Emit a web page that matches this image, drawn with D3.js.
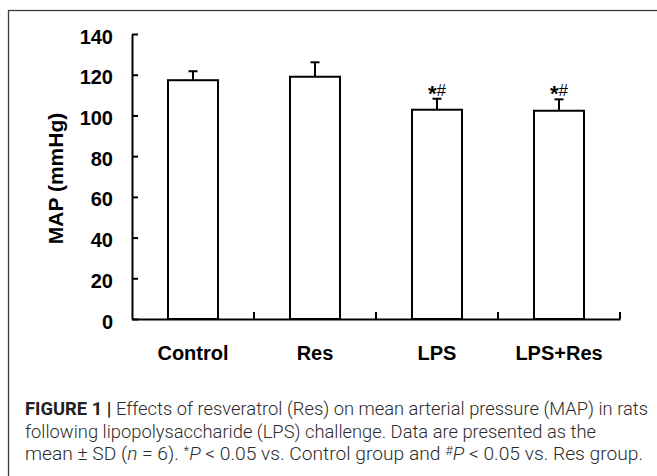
<!DOCTYPE html>
<html>
<head>
<meta charset="utf-8">
<script src="https://cdn.jsdelivr.net/npm/d3@7"></script>
<style>
  body { margin: 0; background: #fff; }
  svg { display: block; }
</style>
</head>
<body>
<div id="chart-area"></div>
<script>
// data
var groups = ["Control", "Res", "LPS", "LPS+Res"]
var meanMAP = [117.3, 119.0, 102.8, 102.3]
var sdMAP = [4.4, 7.1, 5.4, 5.6]
var sigMarks = ["", "", "*#", "*#"]
var yTicks = [0, 20, 40, 60, 80, 100, 120, 140]

var W = 657, H = 476
var plot = { left: 132, right: 620, top: 34, bottom: 319 }

var svg = d3.select("#chart-area").append("svg")
    .attr("width", W)
    .attr("height", H)

// outer frame (runs off the right and bottom edges)
svg.append("rect")
    .attr("x", 8.5)
    .attr("y", 10.5)
    .attr("width", 700)
    .attr("height", 520)
    .style("fill", "none")
    .style("stroke", "#3a3a3a")
    .style("stroke-width", 1.3)

var xScale = d3.scaleBand()
    .domain(groups)
    .range([plot.left, plot.right])
    .paddingInner(0.59)
    .paddingOuter(0.295)

var yScale = d3.scaleLinear()
    .domain([0, 140])
    .range([plot.bottom, plot.top])

var g = svg.append("g")

// Y axis
var yAxisGroup = g.append("g")
    .attr("transform", "translate(" + plot.left + ",0)")
    .call(d3.axisLeft(yScale).tickValues(yTicks).tickSize(-6).tickPadding(19).tickSizeOuter(0))
yAxisGroup.selectAll("path").style("stroke", "#000").style("stroke-width", 2)
yAxisGroup.selectAll("line").style("stroke", "#000").style("stroke-width", 2)
yAxisGroup.selectAll("text")
    .attr("dy", "0.45em")
    .style("font-family", "Arial, 'Liberation Sans', sans-serif")
    .style("font-weight", "bold")
    .style("font-size", "20px")
    .style("fill", "#000")

// bars
g.selectAll(".bar").data(groups).enter()
    .append("rect")
    .attr("class", "bar")
    .attr("x", function(d) { return xScale(d) })
    .attr("y", function(d, i) { return yScale(meanMAP[i]) })
    .attr("width", xScale.bandwidth())
    .attr("height", function(d, i) { return yScale(0) - yScale(meanMAP[i]) })
    .style("fill", "#fff")
    .style("stroke", "#000")
    .style("stroke-width", 2)

// upper error bars
var cx = function(d) { return xScale(d) + xScale.bandwidth() / 2 }
g.selectAll(".err").data(groups).enter()
    .append("line")
    .attr("class", "err")
    .attr("x1", cx).attr("x2", cx)
    .attr("y1", function(d, i) { return yScale(meanMAP[i]) })
    .attr("y2", function(d, i) { return yScale(meanMAP[i] + sdMAP[i]) })
    .style("stroke", "#000")
    .style("stroke-width", 2)
g.selectAll(".cap").data(groups).enter()
    .append("line")
    .attr("class", "cap")
    .attr("x1", function(d) { return cx(d) - 4.5 })
    .attr("x2", function(d) { return cx(d) + 4.5 })
    .attr("y1", function(d, i) { return yScale(meanMAP[i] + sdMAP[i]) })
    .attr("y2", function(d, i) { return yScale(meanMAP[i] + sdMAP[i]) })
    .style("stroke", "#000")
    .style("stroke-width", 2)

// significance marks
var sig = g.selectAll(".sig").data(groups).enter()
    .append("text")
    .attr("class", "sig")
    .attr("x", cx)
    .attr("y", function(d, i) { return yScale(meanMAP[i] + sdMAP[i]) - 3 })
    .style("text-anchor", "middle")
    .style("font-family", "Arial, 'Liberation Sans', sans-serif")
    .style("font-size", "17px")
    .style("fill", "#000")
sig.each(function(d, i) {
    if (!sigMarks[i]) return
    var t = d3.select(this)
    t.append("tspan").style("font-weight", "bold").style("font-size", "22px").attr("dy", 5).text(sigMarks[i][0])
    t.append("tspan").attr("dy", -5).text(sigMarks[i].slice(1))
})

// X axis: line with ticks at group boundaries
var xAxisGroup = g.append("g")
    .attr("transform", "translate(0," + plot.bottom + ")")
    .call(d3.axisBottom(xScale).tickSize(0).tickPadding(27).tickSizeOuter(0))
xAxisGroup.selectAll("path").style("stroke", "#000").style("stroke-width", 2)
xAxisGroup.selectAll("text")
    .style("font-family", "Arial, 'Liberation Sans', sans-serif")
    .style("font-weight", "bold")
    .style("font-size", "20px")
    .style("fill", "#000")
xAxisGroup.selectAll(".boundary").data(groups).enter()
    .append("line")
    .attr("class", "boundary")
    .attr("x1", function(d, i) { return plot.left + (i + 1) * xScale.step() })
    .attr("x2", function(d, i) { return plot.left + (i + 1) * xScale.step() })
    .attr("y1", 0)
    .attr("y2", -7)
    .style("stroke", "#000")
    .style("stroke-width", 2)

// y axis title
g.append("text")
    .attr("transform", "translate(63," + ((plot.top + plot.bottom) / 2 + 2) + ") rotate(-90)")
    .style("text-anchor", "middle")
    .style("font-family", "Arial, 'Liberation Sans', sans-serif")
    .style("font-weight", "bold")
    .style("font-size", "21px")
    .style("fill", "#000")
    .text("MAP (mmHg)")

// caption
var capFont = "Roboto, 'Liberation Sans', sans-serif"
var cap = svg.append("g")
    .style("font-family", capFont)
    .style("font-weight", 300)
    .style("font-size", "17.5px")
    .style("fill", "#2b2b2b")

var l1 = cap.append("text").attr("x", 25).attr("y", 415)
    .attr("textLength", 623).attr("lengthAdjust", "spacingAndGlyphs")
l1.append("tspan").style("font-weight", "bold").style("fill", "#222").text("FIGURE 1 | ")
l1.append("tspan").text("Effects of resveratrol (Res) on mean arterial pressure (MAP) in rats")

cap.append("text").attr("x", 25).attr("y", 437.5)
    .attr("textLength", 571).attr("lengthAdjust", "spacingAndGlyphs")
    .text("following lipopolysaccharide (LPS) challenge. Data are presented as the")

var l3 = cap.append("text").attr("x", 25).attr("y", 460)
    .attr("textLength", 618).attr("lengthAdjust", "spacingAndGlyphs")
l3.append("tspan").text("mean \u00b1 SD (")
l3.append("tspan").style("font-style", "italic").text("n")
l3.append("tspan").text(" = 6). ")
l3.append("tspan").attr("dy", -5).style("font-size", "12px").text("*")
l3.append("tspan").attr("dy", 5).style("font-style", "italic").text("P")
l3.append("tspan").text(" < 0.05 vs. Control group and ")
l3.append("tspan").attr("dy", -5).style("font-size", "12px").text("#")
l3.append("tspan").attr("dy", 5).style("font-style", "italic").text("P")
l3.append("tspan").text(" < 0.05 vs. Res group.")
</script>
</body>
</html>
